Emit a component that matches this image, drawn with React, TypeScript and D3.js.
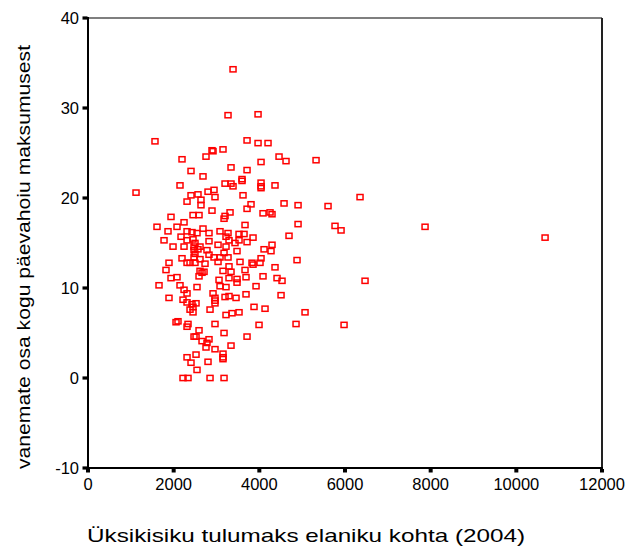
import React from "react";
import * as d3 from "d3";

// Üksikisiku tulumaks elaniku kohta (2004)
const incomeX: number[] = [
  3386, 1564, 3269, 3970, 3713, 3970, 4203, 2895, 2919, 3152,
  2195, 2755, 4460, 4040, 3339, 3713, 4623, 5324, 3596, 2685,
  2405, 2148, 1121, 3199, 3339, 3386, 3596, 4040, 4040, 4040,
  4366, 2405, 2568, 2802, 2942, 2965, 3619, 2312, 2638, 2638,
  2895, 3806, 3713, 4086, 4250, 4296, 4577, 4904, 5604, 6351,
  3316, 3199, 3176, 1938, 2242, 2452, 2592, 1611, 1868, 2078,
  2312, 2428, 2545, 2685, 2825, 3082, 3269, 3526, 3643, 3666,
  4904, 5767, 5908, 7869, 1775, 2172, 2312, 2452, 2498, 2825,
  3036, 3222, 3292, 3526, 3713, 3853, 4693, 10671, 1985, 2242,
  2475, 2475, 2568, 2615, 2778, 3222, 3432, 3479, 4110, 4296,
  4273, 2195, 2475, 2498, 2615, 2825, 2942, 3082, 3269, 3176,
  3549, 3829, 3853, 4040, 4880, 1891, 2312, 2382, 2498, 2732,
  3036, 3292, 4016, 4366, 3666, 1821, 1938, 2078, 2148, 2615,
  2709, 2592, 2662, 3059, 3339, 3292, 3479, 3479, 3689, 3923,
  4086, 4413, 4530, 3152, 6468, 1658, 2545, 3082, 3222, 1891,
  2242, 2312, 2218, 2312, 2428, 2522, 2452, 2452, 2382, 2919,
  2965, 2965, 2965, 3199, 3292, 3456, 3689, 4507, 2849, 3222,
  3362, 3526, 3876, 4133, 5067, 2055, 2101, 2335, 2312, 2965,
  3993, 4857, 5978, 2592, 3176, 3713, 2475, 2522, 2662, 2825,
  2778, 2755, 2965, 3339, 2312, 2522, 3152, 3152, 3152, 2405,
  2802, 2545, 2218, 2335, 2849, 3176,
];

// vanemate osa kogu päevahoiu maksumusest
const shareY: number[] = [
  34.3, 26.3, 29.2, 29.3, 26.4, 26.1, 26.1, 25.3, 25.2, 25.4,
  24.3, 24.6, 24.6, 24.0, 23.4, 23.1, 24.1, 24.2, 22.1, 22.4,
  23.0, 21.4, 20.6, 21.6, 21.6, 21.3, 21.9, 21.7, 21.3, 21.1,
  21.4, 20.3, 20.4, 20.7, 20.9, 20.1, 20.3, 19.6, 19.8, 19.2,
  18.6, 19.3, 18.8, 18.3, 18.4, 18.2, 19.4, 19.2, 19.1, 20.1,
  18.4, 18.0, 17.7, 17.9, 17.3, 18.1, 18.1, 16.8, 16.3, 16.8,
  16.3, 16.2, 16.1, 16.6, 16.1, 16.3, 16.1, 16.0, 16.0, 17.0,
  17.1, 16.9, 16.4, 16.8, 15.3, 15.7, 15.3, 15.4, 15.0, 15.2,
  14.8, 15.7, 15.3, 15.3, 15.1, 15.6, 15.8, 15.6, 14.6, 14.6,
  14.6, 14.2, 14.3, 14.6, 14.2, 14.6, 15.0, 14.1, 14.3, 14.8,
  14.1, 13.3, 13.4, 13.8, 13.2, 13.7, 13.4, 13.4, 13.4, 13.9,
  12.9, 12.8, 12.6, 13.3, 13.1, 12.8, 12.8, 12.8, 12.8, 12.7,
  12.9, 12.4, 12.8, 12.3, 12.0, 12.0, 11.1, 11.2, 10.3, 11.9,
  11.8, 11.3, 11.7, 10.9, 11.8, 11.1, 11.0, 10.6, 11.2, 10.2,
  11.3, 11.1, 10.8, 11.9, 10.8, 10.3, 10.1, 10.2, 10.1, 8.9,
  9.8, 9.4, 8.7, 8.4, 8.2, 8.3, 7.9, 7.3, 7.6, 9.4,
  8.9, 8.6, 8.3, 9.0, 9.1, 8.9, 9.3, 9.2, 7.6, 7.0,
  7.2, 7.3, 7.9, 7.7, 7.3, 6.2, 6.3, 6.0, 5.7, 6.0,
  5.9, 6.0, 5.9, 5.3, 5.0, 4.6, 4.6, 4.6, 4.1, 4.3,
  3.9, 3.4, 3.2, 3.6, 2.3, 2.6, 2.7, 2.3, 2.1, 1.7,
  1.8, 0.9, 0, 0, 0, 0,
];

const xTicks: number[] = [0, 2000, 4000, 6000, 8000, 10000, 12000];
const yTicks: number[] = [-10, 0, 10, 20, 30, 40];
const xTitle = "Üksikisiku tulumaks elaniku kohta (2004)";
const yTitle = "vanemate osa kogu päevahoiu maksumusest";

const W = 631;
const H = 549;
const L = 88, R = 602, T = 18, B = 468;
const FONT = "'Liberation Sans', Arial, Helvetica, sans-serif";

export default function App() {
  const x = d3.scaleLinear().domain([0, 12000]).range([L, R]);
  const y = d3.scaleLinear().domain([-10, 40]).range([B, T]);
  const pts = incomeX.map((v, i) => ({ x: v, y: shareY[i] }));

  return (
    <svg
      width={W}
      height={H}
      viewBox={`0 0 ${W} ${H}`}
      style={{ position: "absolute", left: 0, top: 0, background: "#fff" }}
    >
      <rect x={0} y={0} width={W} height={H} fill="#fff" />
      {/* frame */}
      <line x1={L} x2={R} y1={T} y2={T} stroke="#555" strokeWidth={1.6} />
      <line x1={R} x2={R} y1={T} y2={B} stroke="#222" strokeWidth={2} />
      <line x1={L} x2={L} y1={T - 1} y2={B + 2} stroke="#000" strokeWidth={2} />
      <line x1={L - 1} x2={R + 1} y1={B} y2={B} stroke="#000" strokeWidth={2} />

      {/* y ticks */}
      {yTicks.map((t) => (
        <g key={"y" + t}>
          <rect x={L - 5.5} y={y(t) - 1.6} width={5} height={3.2} fill="#000" />
          <text
            x={79}
            y={y(t)}
            textAnchor="end"
            dominantBaseline="central"
            fontFamily={FONT}
            fontSize={16.5}
            fill="#000"
          >
            {t}
          </text>
        </g>
      ))}

      {/* x ticks */}
      {xTicks.map((t) => (
        <g key={"x" + t}>
          <rect x={x(t) - 2} y={B + 1} width={4} height={3.5} fill="#000" />
          <text
            x={x(t)}
            y={490}
            textAnchor="middle"
            fontFamily={FONT}
            fontSize={16.5}
            fill="#000"
          >
            {t}
          </text>
        </g>
      ))}

      {/* points */}
      {pts.map((p, i) => (
        <rect
          key={i}
          x={x(p.x) - 3}
          y={y(p.y) - 2.6}
          width={6}
          height={5.2}
          fill="none"
          stroke="#ff0000"
          strokeWidth={1.5}
        />
      ))}

      {/* titles */}
      <text
        x={306}
        y={542}
        textAnchor="middle"
        fontFamily={FONT}
        fontSize={19}
        textLength={438}
        lengthAdjust="spacingAndGlyphs"
        fill="#000"
      >
        {xTitle}
      </text>
      <text
        transform="translate(30,257) rotate(-90)"
        textAnchor="middle"
        fontFamily={FONT}
        fontSize={19}
        textLength={424}
        lengthAdjust="spacingAndGlyphs"
        fill="#000"
      >
        {yTitle}
      </text>
    </svg>
  );
}
